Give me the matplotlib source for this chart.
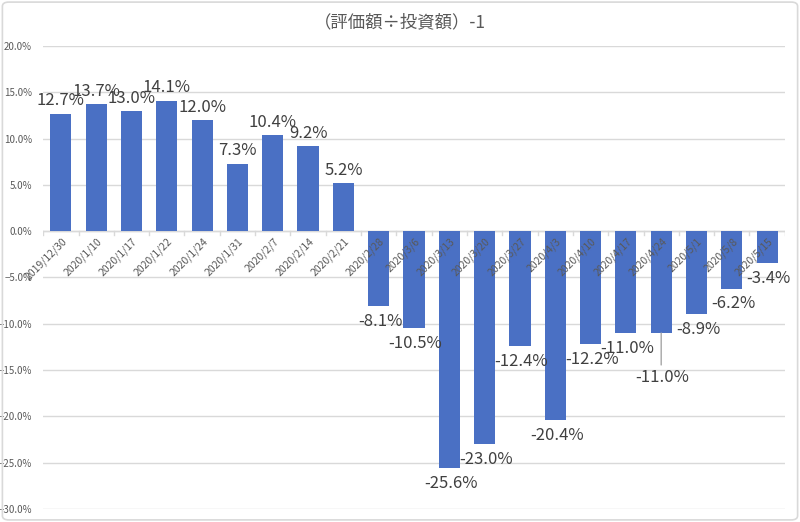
import matplotlib.pyplot as plt
from matplotlib.patches import FancyBboxPatch
from matplotlib.ticker import PercentFormatter

plt.rcParams['font.family'] = ['Noto Sans CJK JP', 'DejaVu Sans']

# data
dates = ['2019/12/30', '2020/1/10', '2020/1/17', '2020/1/22', '2020/1/24', '2020/1/31',
         '2020/2/7', '2020/2/14', '2020/2/21', '2020/2/28', '2020/3/6', '2020/3/13',
         '2020/3/20', '2020/3/27', '2020/4/3', '2020/4/10', '2020/4/17', '2020/4/24',
         '2020/5/1', '2020/5/8', '2020/5/15']
returns = [12.7, 13.7, 13.0, 14.1, 12.0, 7.3, 10.4, 9.2, 5.2, -8.1, -10.5, -25.6,
           -23.0, -12.4, -20.4, -12.2, -11.0, -11.0, -8.9, -6.2, -3.4]
title = '（評価額÷投資額）-1'

gray = '#595959'
grid = '#d9d9d9'

fig = plt.figure(figsize=(8, 5.22), dpi=100)
ax = fig.add_axes([0.054, 0.025, 0.927, 0.887])

x = list(range(len(dates)))
ax.bar(x, [v / 100 for v in returns], width=0.6, color='#4a70c4', zorder=3)

ax.set_xlim(-0.5, len(dates) - 0.5)
ax.set_ylim(-0.30, 0.20)
ax.set_yticks([i / 100 for i in range(-30, 21, 5)])
ax.yaxis.set_major_formatter(PercentFormatter(1.0, decimals=1))
ax.tick_params(axis='y', length=0, labelsize=7, labelcolor=gray, pad=8)
ax.grid(axis='y', color=grid, linewidth=1, zorder=0)
for s in ax.spines.values():
    s.set_visible(False)
ax.set_xticks([])

# zero axis line with category tick marks
ax.axhline(0, color=grid, linewidth=1, zorder=2)
for i in range(len(dates) + 1):
    ax.plot([i - 0.5, i - 0.5], [0, -0.004], color=grid, linewidth=1, zorder=2)

# rotated category labels sitting on the zero line
for i, d in enumerate(dates):
    ax.annotate(d, xy=(i, 0), xytext=(3, -6), textcoords='offset points',
                rotation=45, rotation_mode='anchor', ha='right', va='center',
                fontsize=7.5, color=gray, zorder=4)

# data labels
for i, v in enumerate(returns):
    txt = f'{v:.1f}%'
    if v >= 0:
        ax.annotate(txt, xy=(i, v / 100), xytext=(0, 3), textcoords='offset points',
                    ha='center', va='bottom', fontsize=12, color='#404040', zorder=5)
    else:
        extra = 21 if i == 17 else 0
        if extra:
            ax.annotate('', xy=(i, v / 100), xytext=(0, -23), textcoords='offset points',
                        arrowprops=dict(arrowstyle='-', color='#a6a6a6', lw=1,
                                        shrinkA=0, shrinkB=0))
        ax.annotate(txt, xy=(i, v / 100), xytext=(1, -5 - extra), textcoords='offset points',
                    ha='center', va='top', fontsize=12, color='#404040', zorder=5)

fig.text(0.5, 0.958, title, ha='center', va='center', fontsize=12.5, color=gray)

# light frame around the chart
fig.patches.append(FancyBboxPatch((0.003, 0.004), 0.994, 0.992, boxstyle='round,pad=0,rounding_size=0.008',
                                  transform=fig.transFigure, fill=False, edgecolor=grid, linewidth=1.2))

fig.savefig('out.png', dpi=100)
